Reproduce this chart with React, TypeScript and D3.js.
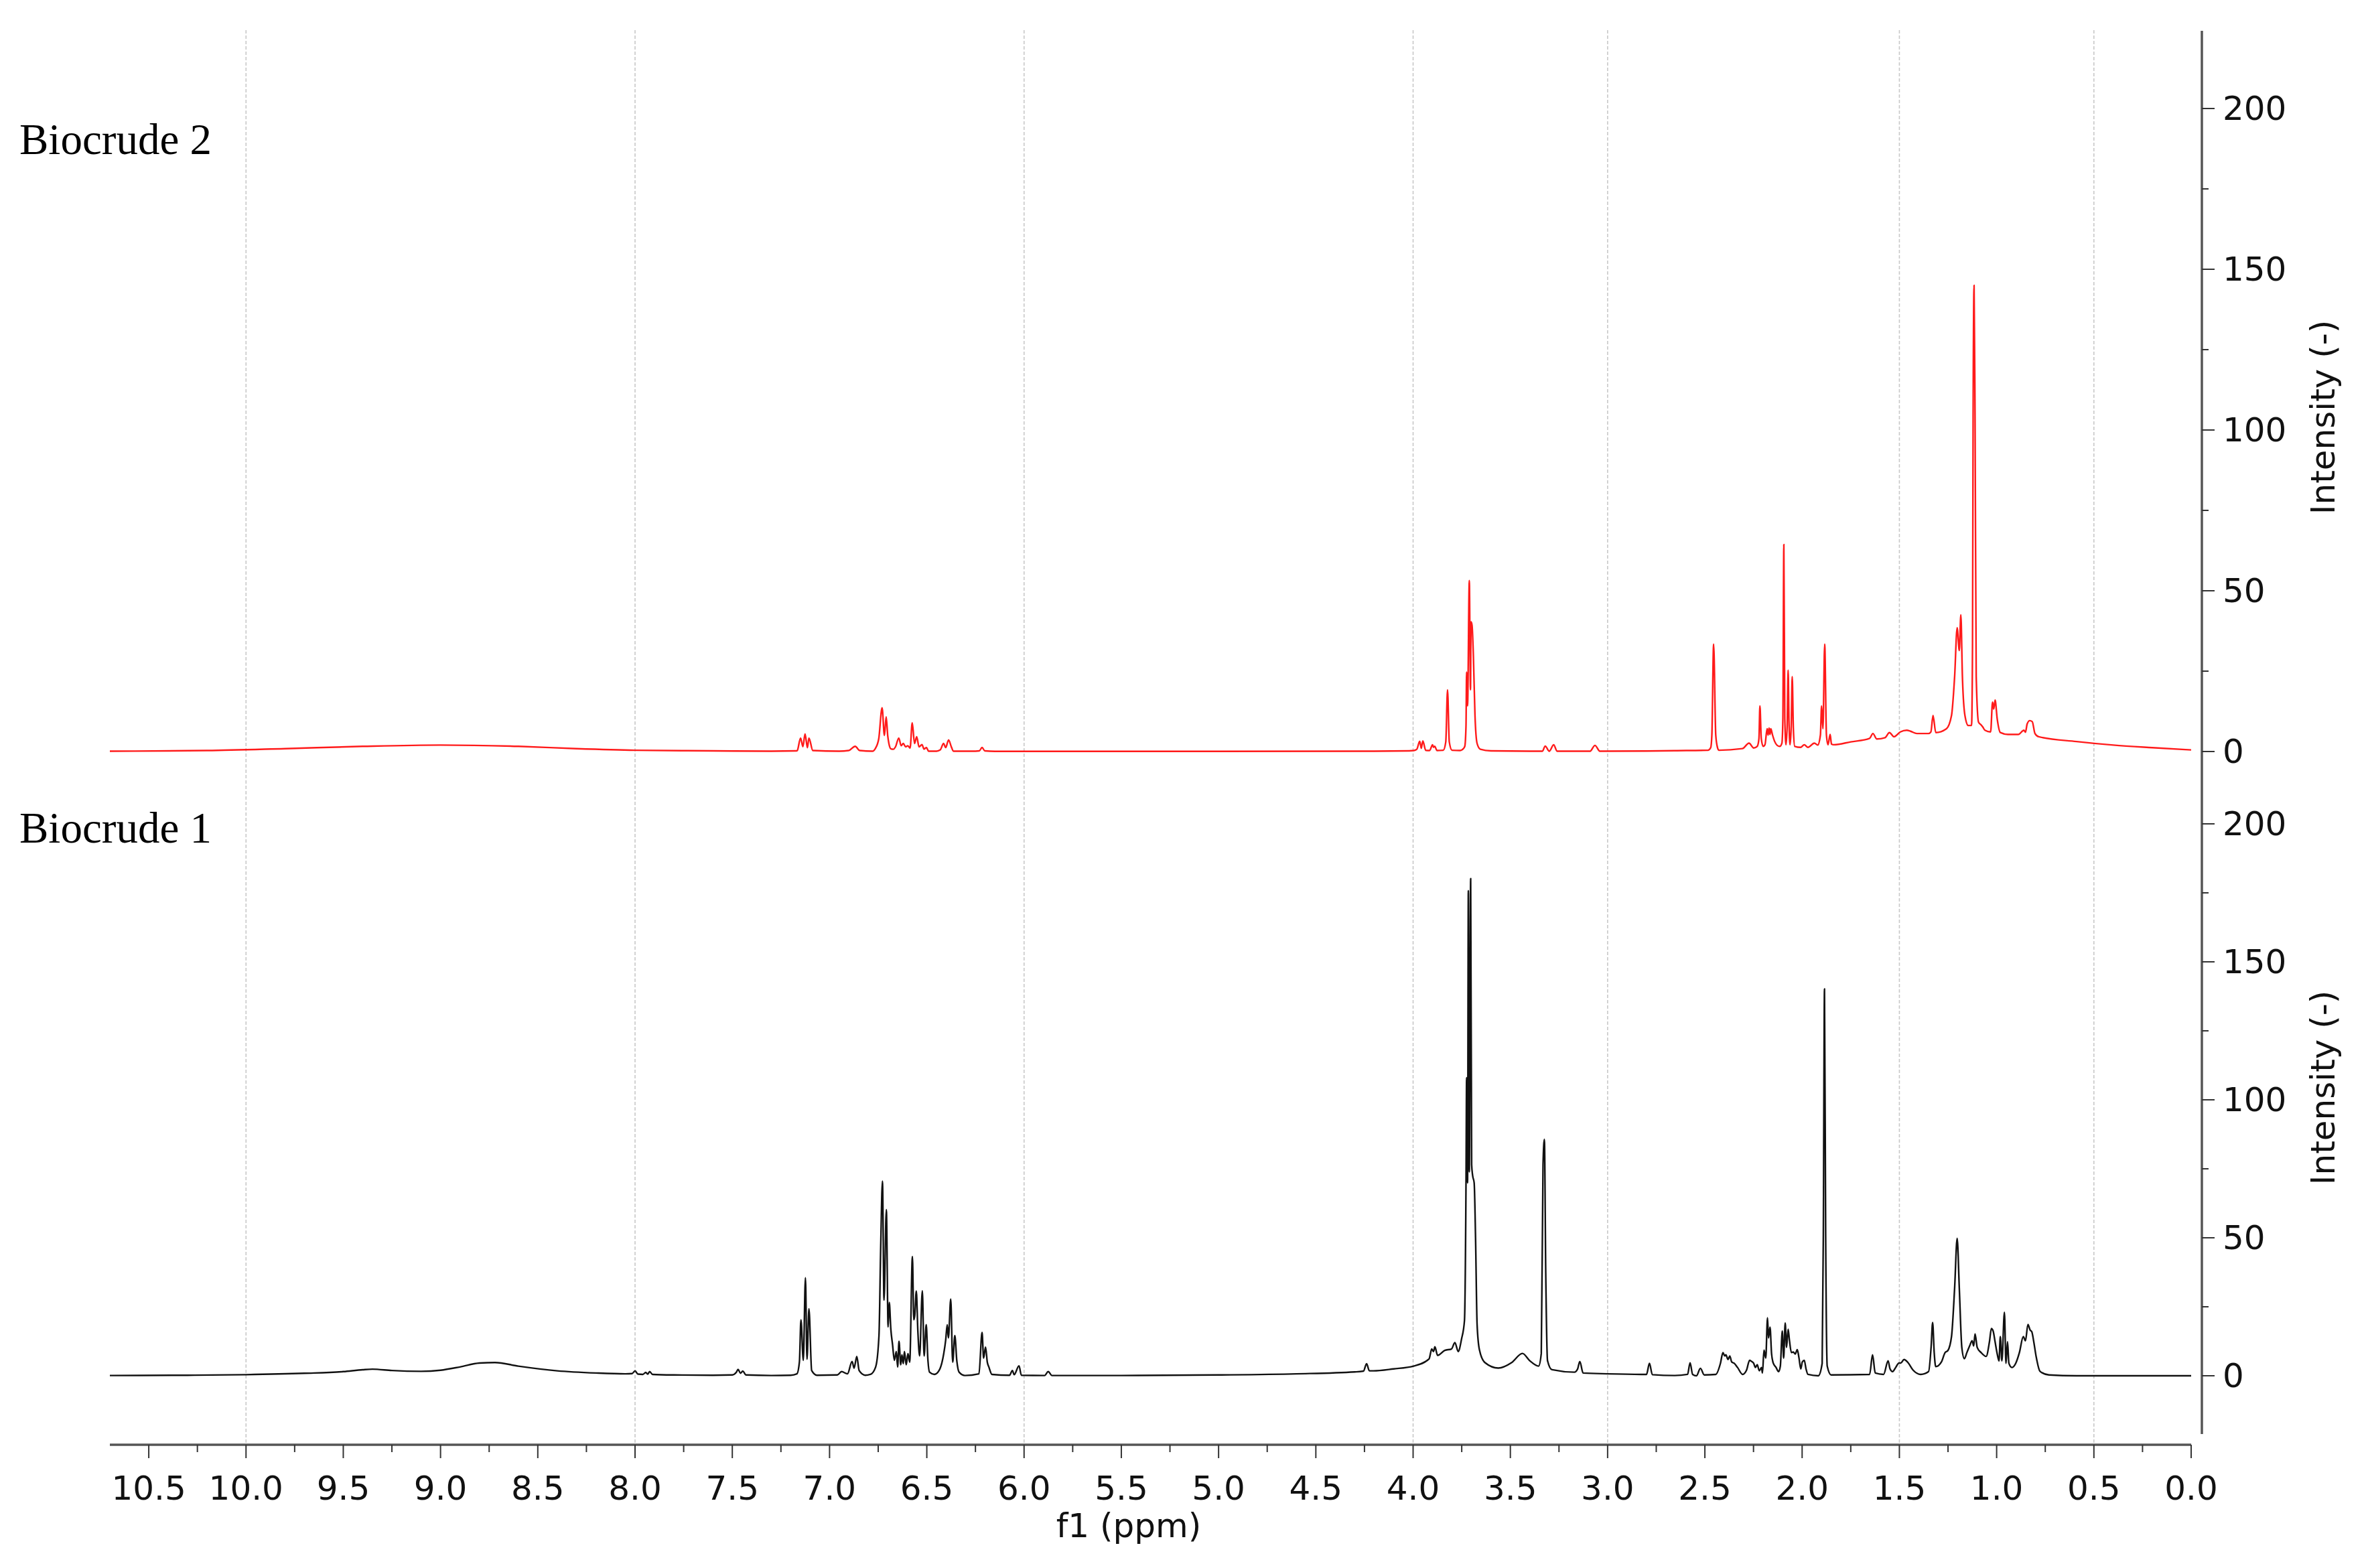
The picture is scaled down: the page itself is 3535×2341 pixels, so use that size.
import React from "react";
import * as d3 from "d3";

// ---------- data ----------
// Biocrude 2 (red, top panel): [ppm, intensity]
const biocrude2: [number, number][] = [
  [10.7, 0.1], [10.2, 0.3], [9.8, 0.9], [9.4, 1.6], [9.0, 2.0], [8.6, 1.6], [8.3, 0.9], [8.0, 0.4], [7.6, 0.2], [7.3, 0.1], [7.17, 0.2],
  [7.166, 0.3], [7.149, 4.2], [7.137, 1.5], [7.126, 5.5], [7.114, 1.2], [7.106, 4.2], [7.086, 0.3],
  [6.95, 0.1], [6.902, 0.3], [6.868, 1.6], [6.845, 0.3], [6.78, 0.1],
  [6.764, 1.0], [6.747, 4.0], [6.73, 13.6], [6.718, 5.0], [6.709, 10.8], [6.701, 4.9], [6.695, 2.5], [6.684, 0.8], [6.672, 0.7],
  [6.661, 1.46], [6.644, 4.2], [6.632, 1.8], [6.621, 2.5], [6.609, 1.46], [6.598, 1.8], [6.586, 1.1], [6.575, 8.9], [6.563, 2.5],
  [6.552, 4.6], [6.54, 1.46], [6.525, 2.15], [6.514, 0.76], [6.502, 1.25], [6.491, 0.1],
  [6.45, 0.1], [6.431, 0.5], [6.414, 2.5], [6.403, 1.25], [6.388, 3.6], [6.374, 1.46], [6.363, 0.1],
  [6.25, 0.1], [6.23, 0.2], [6.216, 1.25], [6.202, 0.2], [6.15, 0.05],
  [5.0, 0.05], [4.2, 0.1], [4.02, 0.2], [3.996, 0.3], [3.981, 0.7], [3.966, 3.2], [3.958, 1.0], [3.95, 3.3], [3.935, 0.35],
  [3.915, 0.3], [3.9, 2.1], [3.895, 1.3], [3.889, 1.6], [3.877, 0.3], [3.845, 0.4], [3.832, 3.0], [3.823, 19.2], [3.814, 3.0],
  [3.8, 0.4], [3.76, 0.3], [3.74, 1.0], [3.734, 1.7], [3.728, 8], [3.725, 24.7], [3.72, 14.2], [3.711, 53.2], [3.705, 19.2],
  [3.702, 40.3], [3.697, 39.3], [3.69, 29.6], [3.682, 11.5], [3.671, 2.5], [3.654, 0.7], [3.6, 0.2], [3.4, 0.1],
  [3.335, 0.1], [3.321, 1.7], [3.3, 0.1], [3.277, 2.1], [3.26, 0.1],
  [3.09, 0.1], [3.065, 1.9], [3.04, 0.1],
  [2.8, 0.15], [2.655, 0.27], [2.484, 0.4], [2.47, 1.2], [2.464, 5.1], [2.455, 33.4], [2.444, 5.1], [2.435, 1.2], [2.428, 0.4],
  [2.307, 0.9], [2.273, 2.6], [2.249, 1.1], [2.231, 1.6], [2.222, 4], [2.217, 14.2], [2.21, 4], [2.2, 1.6], [2.191, 2.1],
  [2.18, 7.1], [2.175, 5.1], [2.17, 7.3], [2.165, 5.3], [2.161, 7.1], [2.152, 5.1], [2.141, 3.1], [2.128, 1.9], [2.115, 1.6],
  [2.104, 2.6], [2.099, 10], [2.094, 64.4], [2.089, 10], [2.083, 2.1], [2.077, 8], [2.072, 25.3], [2.067, 8], [2.062, 2.1],
  [2.056, 8], [2.051, 23.3], [2.045, 7], [2.038, 1.6], [2.008, 1.3], [1.989, 2.1], [1.97, 1.3], [1.937, 2.6], [1.92, 2.0],
  [1.906, 5.1], [1.9, 14.2], [1.893, 7.1], [1.884, 33.4], [1.875, 5.1], [1.867, 2.1], [1.856, 5.3], [1.849, 2.3], [1.838, 2.1],
  [1.75, 3.0], [1.653, 4.1], [1.636, 5.6], [1.616, 3.9], [1.574, 4.3], [1.551, 5.9], [1.528, 4.6], [1.495, 6.1], [1.462, 6.6],
  [1.443, 6.3], [1.41, 5.6], [1.35, 5.6], [1.338, 6.1], [1.327, 11.2], [1.313, 5.9], [1.258, 7.1], [1.232, 11.2], [1.216, 23.3],
  [1.203, 38.5], [1.192, 31.4], [1.184, 42.5], [1.176, 23.3], [1.163, 11.2], [1.146, 8.1], [1.129, 8.1], [1.124, 33],
  [1.121, 104], [1.116, 145], [1.111, 104], [1.105, 23.3], [1.093, 9.1], [1.08, 8.3], [1.071, 7.6], [1.06, 6.6], [1.031, 6.1],
  [1.021, 15.4], [1.015, 13.2], [1.008, 16.0], [0.997, 10.1], [0.981, 5.9], [0.942, 5.3], [0.889, 5.3], [0.86, 6.6],
  [0.852, 6.0], [0.843, 8.6], [0.83, 9.6], [0.817, 9.3], [0.803, 5.6], [0.784, 4.6], [0.589, 3.1], [0.4, 2.0], [0.2, 1.2], [0.0, 0.5],
];

// Biocrude 1 (black, bottom panel): [ppm, intensity]
const biocrude1: [number, number][] = [
  [10.7, 0.1], [10.3, 0.2], [10.0, 0.4], [9.7, 0.9], [9.5, 1.5], [9.4, 2.2], [9.35, 2.4], [9.25, 1.9], [9.1, 1.6], [9.0, 2.0],
  [8.9, 3.2], [8.8, 4.6], [8.72, 4.8], [8.6, 3.5], [8.4, 1.8], [8.2, 1.0], [8.05, 0.7], [8.015, 0.8], [8.0, 1.8], [7.985, 0.6],
  [7.96, 0.5], [7.945, 1.2], [7.935, 0.6], [7.925, 1.5], [7.91, 0.5], [7.8, 0.3], [7.6, 0.2], [7.5, 0.3], [7.48, 1.2],
  [7.47, 2.3], [7.458, 0.9], [7.446, 1.7], [7.43, 0.3], [7.3, 0.1], [7.2, 0.2], [7.168, 0.7], [7.155, 5], [7.147, 20.3],
  [7.135, 5.6], [7.124, 35.5], [7.116, 6.0], [7.106, 24.3], [7.092, 1.9], [7.065, 0.2], [6.96, 0.3], [6.938, 1.5], [6.908, 0.7],
  [6.884, 5.2], [6.874, 2.75], [6.86, 7.0], [6.848, 1.9], [6.817, 0.2], [6.79, 0.5], [6.763, 3.2], [6.746, 14.5], [6.737, 46.8],
  [6.728, 70.5], [6.72, 27.4], [6.708, 60.2], [6.699, 17.7], [6.693, 26.6], [6.685, 16.9], [6.676, 11.2], [6.667, 5.6],
  [6.657, 8.8], [6.65, 3.2], [6.643, 12.5], [6.634, 4.0], [6.628, 7.6], [6.621, 4.4], [6.615, 8.8], [6.606, 4.0], [6.597, 8.0],
  [6.588, 4.9], [6.574, 43.2], [6.567, 20.3], [6.562, 21.8], [6.554, 30.7], [6.546, 16.1], [6.537, 7.2], [6.523, 30.8],
  [6.514, 7.2], [6.503, 18.5], [6.495, 6.4], [6.486, 1.3], [6.461, 0.5], [6.437, 1.9], [6.413, 8.0], [6.403, 12.9],
  [6.395, 18.5], [6.389, 13.7], [6.377, 27.8], [6.367, 4.9], [6.356, 14.6], [6.346, 5.6], [6.334, 1.3], [6.304, 0.1],
  [6.232, 0.7], [6.216, 15.7], [6.208, 6.4], [6.198, 10.4], [6.189, 4.9], [6.181, 3.2], [6.165, 0.5], [6.075, 0.2],
  [6.06, 1.9], [6.051, 0.4], [6.026, 3.6], [6.014, 0.2], [5.894, 0.1], [5.876, 1.5], [5.857, 0.1], [5.5, 0.1], [5.0, 0.3],
  [4.6, 0.7], [4.3, 1.4], [4.255, 1.7], [4.239, 4.4], [4.225, 1.8], [4.204, 1.8], [4.1, 2.5], [3.998, 3.5], [3.918, 6.1],
  [3.904, 9.7], [3.895, 8.8], [3.888, 10.5], [3.874, 7.4], [3.837, 9.2], [3.803, 9.7], [3.785, 12.0], [3.768, 8.8],
  [3.751, 13.3], [3.736, 19.9], [3.728, 69.9], [3.725, 108], [3.72, 69.9], [3.716, 175.8], [3.711, 73.9], [3.704, 180.2],
  [3.699, 76.5], [3.694, 72.6], [3.686, 69.9], [3.679, 50.2], [3.671, 18.6], [3.659, 9.4], [3.631, 4.8], [3.562, 2.8],
  [3.493, 4.8], [3.438, 8.1], [3.401, 5.5], [3.355, 3.5], [3.341, 8.1], [3.332, 76.5], [3.325, 85.7], [3.318, 37.0],
  [3.309, 5.5], [3.286, 2.2], [3.171, 1.3], [3.154, 2.5], [3.143, 5.2], [3.126, 1.0], [2.999, 0.7], [2.827, 0.5], [2.8, 0.5],
  [2.785, 4.5], [2.77, 0.4], [2.655, 0.1], [2.589, 0.5], [2.576, 4.7], [2.563, 0.5], [2.543, 0], [2.523, 2.7], [2.503, 0.3],
  [2.444, 0.5], [2.42, 4.5], [2.407, 8.4], [2.398, 7.2], [2.392, 7.6], [2.381, 5.9], [2.372, 7.2], [2.362, 5.0], [2.349, 4.5],
  [2.332, 3.0], [2.306, 0.5], [2.286, 2.0], [2.27, 5.6], [2.26, 5.2], [2.249, 4.5], [2.24, 3.0], [2.231, 4.0], [2.22, 1.8],
  [2.209, 3.0], [2.204, 1.0], [2.196, 9.3], [2.187, 6.4], [2.178, 21.0], [2.173, 13.7], [2.165, 17.6], [2.157, 7.9],
  [2.148, 4.5], [2.134, 3.0], [2.121, 1.5], [2.112, 3.5], [2.102, 16.2], [2.095, 6.4], [2.087, 19.1], [2.08, 10.3],
  [2.072, 16.9], [2.065, 12.7], [2.055, 8.4], [2.046, 8.6], [2.035, 7.9], [2.025, 9.5], [2.016, 6.4], [2.007, 2.5],
  [1.999, 5.0], [1.989, 5.6], [1.98, 2.5], [1.97, 0.5], [1.917, 0], [1.897, 4.5], [1.891, 51.3], [1.885, 140.2], [1.879, 51.3],
  [1.871, 3.5], [1.851, 0.3], [1.653, 0.5], [1.638, 7.6], [1.624, 1.0], [1.581, 0.5], [1.558, 5.4], [1.548, 2.5], [1.535, 1.5],
  [1.519, 3.0], [1.502, 4.6], [1.493, 4.6], [1.476, 5.9], [1.456, 4.8], [1.429, 2.0], [1.39, 0.5], [1.35, 1.5], [1.337, 10.3],
  [1.329, 19.3], [1.321, 8.4], [1.313, 3.3], [1.284, 5.0], [1.265, 8.4], [1.251, 9.1], [1.232, 14.2], [1.216, 31.8],
  [1.203, 49.8], [1.192, 31.8], [1.179, 10.3], [1.166, 6.2], [1.153, 8.4], [1.139, 10.8], [1.126, 12.7], [1.118, 10.8],
  [1.111, 15.2], [1.1, 10.3], [1.08, 8.4], [1.054, 7.0], [1.037, 12.3], [1.027, 17.1], [1.018, 16.2], [1.008, 12.3],
  [0.997, 7.9], [0.988, 5.4], [0.981, 14.2], [0.973, 5.4], [0.96, 23.0], [0.952, 4.5], [0.944, 12.3], [0.937, 4.5],
  [0.922, 3.0], [0.902, 4.5], [0.883, 8.4], [0.863, 14.2], [0.852, 12.7], [0.839, 18.6], [0.828, 16.6], [0.819, 15.9],
  [0.81, 12.7], [0.797, 7.0], [0.777, 1.6], [0.731, 0.3], [0.589, 0], [0.0, 0],
];

const xMajorTicks = d3.range(0, 10.51, 0.5);
const xMinorTicks = d3.range(0.25, 10.6, 0.5);
const gridPpm = [10, 8, 6, 4, 3, 1.5, 0.5];
const yMajorTicks = [0, 50, 100, 150, 200];
const yMinorTicks = [25, 75, 125, 175];
const panelLabels = ["Biocrude 2", "Biocrude 1"];
const xTitle = "f1 (ppm)";
const yTitle = "Intensity (-)";

// ---------- layout ----------
const W = 3535;
const H = 2341;
const AXIS_X = 3287;
const AXIS_Y = 2157;
const FONT = "'DejaVu Sans', Verdana, sans-serif";

export default function App() {
  const x = d3.scaleLinear().domain([10.7, 0]).range([164, 3271]);
  const yTop = d3.scaleLinear().domain([0, 200]).range([1122, 162]);
  const yBot = d3.scaleLinear().domain([0, 200]).range([2054, 1230]);

  const lineTop = d3
    .line<[number, number]>()
    .x((d) => x(d[0]))
    .y((d) => yTop(d[1]))
    .curve(d3.curveMonotoneX);
  const lineBot = d3
    .line<[number, number]>()
    .x((d) => x(d[0]))
    .y((d) => yBot(d[1]))
    .curve(d3.curveMonotoneX);

  const panels = [
    { y: yTop, labelY: 230, titleY: 623 },
    { y: yBot, labelY: 1258, titleY: 1624 },
  ];

  return (
    <svg
      width={W}
      height={H}
      viewBox={`0 0 ${W} ${H}`}
      style={{ position: "absolute", left: 0, top: 0, background: "#fff" }}
    >
      <rect x={0} y={0} width={W} height={H} fill="#fff" />
      {/* grid */}
      {gridPpm.map((p) => (
        <line
          key={"g" + p}
          x1={x(p)}
          x2={x(p)}
          y1={45}
          y2={AXIS_Y}
          stroke="#c8c8c8"
          strokeWidth={1.6}
          strokeDasharray="5,3"
        />
      ))}

      {/* spectra */}
      <path d={lineTop(biocrude2) || ""} fill="none" stroke="#ff1a1a" strokeWidth={2.4} strokeLinejoin="round" />
      <path d={lineBot(biocrude1) || ""} fill="none" stroke="#111" strokeWidth={2.4} strokeLinejoin="round" />

      {/* x axis */}
      <line x1={x(10.7)} x2={x(0)} y1={AXIS_Y} y2={AXIS_Y} stroke="#555" strokeWidth={3.5} />
      {xMajorTicks.map((t) => (
        <g key={"xm" + t}>
          <line x1={x(t)} x2={x(t)} y1={AXIS_Y} y2={AXIS_Y + 20} stroke="#333" strokeWidth={2} />
          <text x={x(t)} y={2239} textAnchor="middle" fontFamily={FONT} fontSize={50} fill="#111">
            {t.toFixed(1)}
          </text>
        </g>
      ))}
      {xMinorTicks.map((t) => (
        <line key={"xn" + t} x1={x(t)} x2={x(t)} y1={AXIS_Y} y2={AXIS_Y + 11} stroke="#333" strokeWidth={2} />
      ))}
      <text x={1685} y={2295} textAnchor="middle" fontFamily={FONT} fontSize={50} fill="#111">
        {xTitle}
      </text>

      {/* y axis line */}
      <line x1={AXIS_X} x2={AXIS_X} y1={46} y2={2141} stroke="#555" strokeWidth={3.5} />
      {panels.map((p, i) => (
        <g key={"p" + i}>
          {yMajorTicks.map((t) => (
            <g key={"ym" + t}>
              <line x1={AXIS_X} x2={AXIS_X + 19} y1={p.y(t)} y2={p.y(t)} stroke="#333" strokeWidth={2} />
              <text x={3318} y={p.y(t) + 17} fontFamily={FONT} fontSize={50} fill="#111">
                {t}
              </text>
            </g>
          ))}
          {yMinorTicks.map((t) => (
            <line key={"yn" + t} x1={AXIS_X} x2={AXIS_X + 10} y1={p.y(t)} y2={p.y(t)} stroke="#333" strokeWidth={2} />
          ))}
          <text
            transform={`translate(3485,${p.titleY}) rotate(-90)`}
            textAnchor="middle"
            fontFamily={FONT}
            fontSize={50}
            fill="#111"
          >
            {yTitle}
          </text>
          <text x={29} y={p.labelY} fontFamily="'Liberation Serif', 'Times New Roman', serif" fontSize={65} fill="#000">
            {panelLabels[i]}
          </text>
        </g>
      ))}
    </svg>
  );
}
